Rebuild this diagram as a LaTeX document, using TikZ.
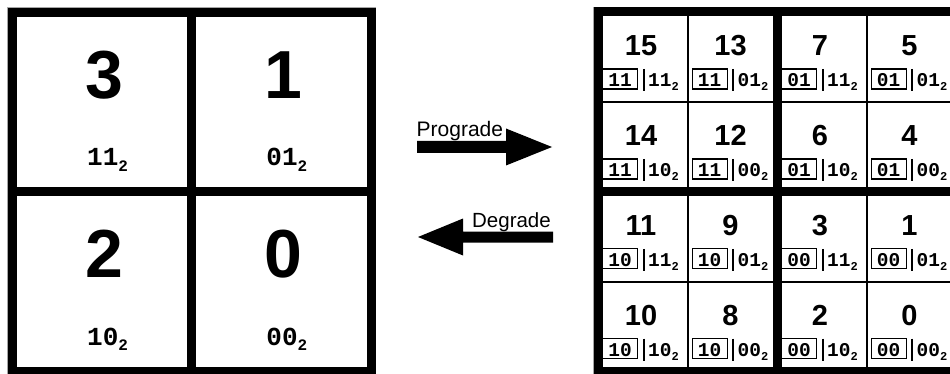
\documentclass[tikz,border=0pt]{standalone}
\usepackage{fontspec}
\setmainfont{Liberation Sans}
\newfontfamily\binfont{Liberation Mono}

% lowered small "2" marking a base-2 number
\newcommand\basetwo[2]{\raisebox{-#2}{\fontsize{#1}{#1}\selectfont 2}}

\tikzset{
  thickline/.style={line width=9pt},
  thinline/.style={line width=1.8pt},
  halo/.style={draw=black!35, line width=0.8pt},
  bignum/.style={font=\fontsize{68}{68}\selectfont\bfseries, inner sep=0pt, anchor=base},
  bigbin/.style={font=\binfont\bfseries\fontsize{26}{26}\selectfont, inner sep=0pt, anchor=base west},
  smallnum/.style={font=\fontsize{29}{29}\selectfont\bfseries, inner sep=0pt, anchor=base},
  hibox/.style={draw, line width=1.3pt, font=\binfont\bfseries\fontsize{19.5}{19.5}\selectfont,
    inner xsep=0pt, inner ysep=2pt, text height=16pt, text depth=0pt,
    minimum width=35pt, anchor=base west},
  lobin/.style={font=\binfont\bfseries\fontsize{19.5}{19.5}\selectfont, inner sep=0pt, anchor=base west},
  sepbar/.style={line width=2pt},
  blockarrow/.style={fill=black},
  arrowlabel/.style={inner sep=0pt}
}

\begin{document}
\begin{tikzpicture}[x=1pt, y=-1pt]
\useasboundingbox (0,0) rectangle (950,374);
\clip (0,0) rectangle (950,374);
\fill[white] (0,0) rectangle (950,374);

% ---- 2x2 grid ----
\draw[halo] (7.8,7.8) rectangle (375.7,375.7);
\draw[thickline] (12.5,12.5) rectangle (371,371);
\draw[thickline] (191.75,12.5) -- (191.75,371);
\draw[thickline] (12.5,191.75) -- (371,191.75);

\foreach \n/\b [count=\k from 0] in {3/11, 1/01, 2/10, 0/00} {
  \pgfmathtruncatemacro\c{mod(\k,2)}
  \pgfmathtruncatemacro\r{div(\k,2)}
  \pgfmathsetmacro\xl{12.5+179.25*\c}
  \pgfmathsetmacro\yt{12.5+179.25*\r}
  \node[bignum] (big\n) at (\xl+91.6,\yt+86) {\n};
  \node[bigbin] (bigb\n) at (\xl+74.5,\yt+153.5) {\b\basetwo{16}{5.5pt}};
}

% ---- 4x4 grid ----
\draw[halo] (593.8,7.3) -- (593.8,376);
\draw[halo] (593.8,7.3) -- (960,7.3);
\draw[thickline] (598.5,12) rectangle (956.5,371.5);
\draw[thickline] (777.5,12) -- (777.5,371.5);
\draw[thickline] (598.5,191.75) -- (956.5,191.75);
\foreach \xx in {688,867} \draw[thinline] (\xx,12) -- (\xx,371.5);
\foreach \yy in {101.9,281.6} \draw[thinline] (598.5,\yy) -- (956.5,\yy);

\foreach \n/\hi/\lo [count=\k from 0] in {
    15/11/11, 13/11/01, 7/01/11, 5/01/01,
    14/11/10, 12/11/00, 6/01/10, 4/01/00,
    11/10/11, 9/10/01, 3/00/11, 1/00/01,
    10/10/10, 8/10/00, 2/00/10, 0/00/00} {
  \pgfmathtruncatemacro\c{mod(\k,4)}
  \pgfmathtruncatemacro\r{div(\k,4)}
  \pgfmathsetmacro\xl{598.5+89.5*\c}
  \pgfmathsetmacro\yt{12+89.875*\r}
  \node[smallnum] (num\n) at (\xl+42.5,\yt+44) {\n};
  \node[hibox] (hi\n) at (\xl+3.5,\yt+75) {\hi};
  \draw[sepbar] (\xl+45,\yt+57) -- (\xl+45,\yt+79);
  \node[lobin] (lo\n) at (\xl+49.5,\yt+75) {\lo\basetwo{12}{3.5pt}};
}

% ---- block arrows with their labels ----
\fill[blockarrow] (417,141) -- (506,141) -- (506,128.5) -- (552,147)
  -- (506,165.5) -- (506,153) -- (417,153) -- cycle;
\node[arrowlabel, font=\fontsize{21}{21}\selectfont, anchor=base west] (prograde) at (416.5,137) {Prograde};

\fill[blockarrow] (553,231.5) -- (463,231.5) -- (463,218.5) -- (418,237)
  -- (463,255.5) -- (463,242.5) -- (553,242.5) -- cycle;
\node[arrowlabel, font=\fontsize{20.5}{20.5}\selectfont, anchor=base east] (degrade) at (551,227) {Degrade};
\end{tikzpicture}
\end{document}
